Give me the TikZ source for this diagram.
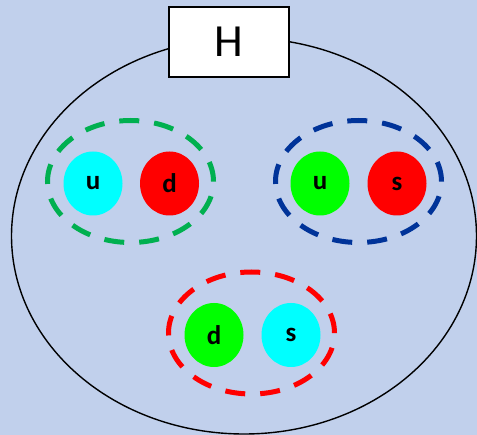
\documentclass[tikz,border=0pt]{standalone}
\usepackage{fontspec}
\setmainfont{Carlito}
\usetikzlibrary{shapes.geometric}
\definecolor{bgblue}{RGB}{193,208,236}
\definecolor{pgreen}{RGB}{0,176,80}
\definecolor{pblue}{RGB}{0,51,153}
\definecolor{qcyan}{RGB}{0,255,255}
\definecolor{qgreen}{RGB}{0,255,0}
\definecolor{qred}{RGB}{255,0,0}
\tikzset{
  quark/.style={ellipse, inner sep=0pt, minimum width=59pt, minimum height=64pt, font=\fontsize{27}{27}\selectfont\bfseries, text=black},
  pair/.style={ellipse, inner sep=0pt, minimum width=166pt, minimum height=122pt, line width=5pt, dash pattern=on 20pt off 15pt},
}
\begin{document}
\begin{tikzpicture}[x=1pt,y=-1pt]
\fill[bgblue] (0,0) rectangle (477,435);
\useasboundingbox (0,0) rectangle (477,435);
\node[ellipse, draw=black, line width=1.4pt, minimum width=465pt, minimum height=396pt, inner sep=0pt] (hadron) at (244,236) {};
\node[draw=black, fill=white, line width=1.4pt, minimum width=120pt, minimum height=70pt, inner sep=0pt, font=\fontsize{46}{46}\selectfont] (H) at (229,42) {H};
% pairs
\node[pair, draw=pgreen] (p1) at (130.5,181.5) {};
\node[pair, draw=pblue] (p2) at (358.5,181.5) {};
\node[pair, draw=qred] (p3) at (251.5,333) {};
% quarks
\node[quark, fill=qcyan] (u1) at (93,183.5) {u};
\node[quark, fill=qred] (d1) at (169.5,183.5) {d};
\node[quark, fill=qgreen] (u2) at (320,183.5) {u};
\node[quark, fill=qred] (s2) at (397,183.5) {s};
\node[quark, fill=qgreen] (d3) at (214,335) {d};
\node[quark, fill=qcyan] (s3) at (291,335) {s};
\end{tikzpicture}
\end{document}
